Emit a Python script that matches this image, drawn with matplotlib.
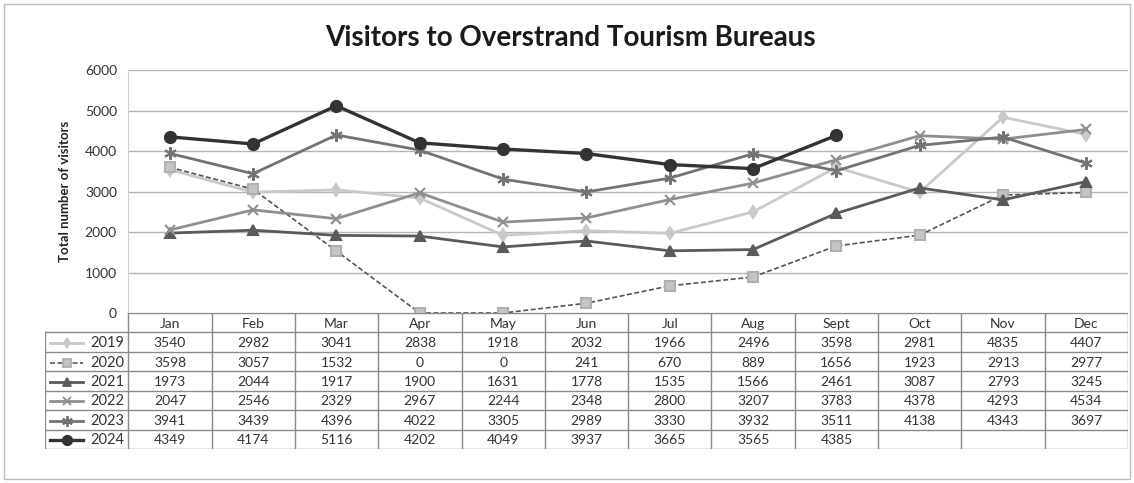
"""Visitors to Overstrand Tourism Bureaus - line chart with Excel-style data table."""
import matplotlib.pyplot as plt
import numpy as np
from matplotlib.patches import Rectangle

months = ["Jan", "Feb", "Mar", "Apr", "May", "Jun", "Jul", "Aug", "Sept", "Oct", "Nov", "Dec"]
years = ["2019", "2020", "2021", "2022", "2023", "2024"]

v2019 = [3540, 2982, 3041, 2838, 1918, 2032, 1966, 2496, 3598, 2981, 4835, 4407]
v2020 = [3598, 3057, 1532, 0, 0, 241, 670, 889, 1656, 1923, 2913, 2977]
v2021 = [1973, 2044, 1917, 1900, 1631, 1778, 1535, 1566, 2461, 3087, 2793, 3245]
v2022 = [2047, 2546, 2329, 2967, 2244, 2348, 2800, 3207, 3783, 4378, 4293, 4534]
v2023 = [3941, 3439, 4396, 4022, 3305, 2989, 3330, 3932, 3511, 4138, 4343, 3697]
v2024 = [4349, 4174, 5116, 4202, 4049, 3937, 3665, 3565, 4385, None, None, None]
series = [v2019, v2020, v2021, v2022, v2023, v2024]

yticks = [0, 1000, 2000, 3000, 4000, 5000, 6000]

styles = [
    dict(color="#c9c9c9", lw=2.0, ls="-", marker="d", ms=6, mfc="#c9c9c9", mec="#c9c9c9"),
    dict(color="#555555", lw=1.2, ls=(0, (3, 1.5)), marker="s", ms=7, mfc="#c4c4c4", mec="#b0b0b0"),
    dict(color="#5a5a5a", lw=2.0, ls="-", marker="^", ms=7, mfc="#5a5a5a", mec="#5a5a5a"),
    dict(color="#8f8f8f", lw=2.0, ls="-", marker="x", ms=7, mfc="#8f8f8f", mec="#8f8f8f"),
    dict(color="#737373", lw=2.0, ls="-", marker=(6, 2, 0), ms=9, mfc="#737373", mec="#737373"),
    dict(color="#333333", lw=2.4, ls="-", marker="o", ms=8, mfc="#333333", mec="#333333"),
]

W, H = 1134, 483
plt.rcParams["font.family"] = ["Lato", "DejaVu Sans"]
fig = plt.figure(figsize=(W / 100, H / 100), dpi=100)
fig.patches.append(Rectangle((4 / W, 4 / H), 1 - 8 / W, 1 - 8 / H, transform=fig.transFigure,
                             fill=False, ec="#bdbdbd", lw=1.0))


def px_axes(x0, x1, y0, y1):
    return fig.add_axes([x0 / W, 1 - y1 / H, (x1 - x0) / W, (y1 - y0) / H])


# main plot
ax = px_axes(128, 1128, 70, 313)
x = np.arange(len(months))
for vals, st in zip(series, styles):
    y = np.array([np.nan if v is None else v for v in vals], dtype=float)
    ax.plot(x, y, color=st["color"], lw=st["lw"], ls=st["ls"], marker=st["marker"],
            ms=st["ms"], mfc=st["mfc"], mec=st["mec"], mew=1.5, zorder=3)
ax.set_xlim(-0.5, 11.5)
ax.set_ylim(0, 6000)
ax.set_yticks(yticks)
ax.set_yticklabels([str(t) for t in yticks], fontsize=10, color="#333333")
ax.set_xticks([])
ax.tick_params(axis="y", length=0, pad=8)
ax.grid(axis="y", color="#b5b5b5", lw=1.0)
ax.set_axisbelow(True)
for side in ["top", "right", "bottom"]:
    ax.spines[side].set_visible(False)
ax.spines["left"].set_color("#d0d0d0")
ax.set_ylabel("Total number of visitors", fontsize=9.5, fontweight="bold", color="#222222", labelpad=10)
fig.text(570 / W, 1 - 38 / H, "Visitors to Overstrand Tourism Bureaus", ha="center", va="center",
         fontsize=20, fontweight="bold", color="#1a1a1a")

# data table
tab = px_axes(45, 1128, 313, 449)
tab.set_xlim(-1.5, 11.5)
tab.set_ylim(7, 0)
tab.axis("off")
lc = "#8a8a8a"
nrows = len(years) + 1
# horizontal lines
tab.plot([-0.5, 11.5], [0, 0], color=lc, lw=1)
for r in range(1, nrows + 1):
    tab.plot([-1.5, 11.5], [r, r], color=lc, lw=1)
# vertical lines
tab.plot([-1.5, -1.5], [1, nrows], color=lc, lw=1)
for c in range(len(months) + 1):
    tab.plot([c - 0.5, c - 0.5], [0, nrows], color=lc, lw=1)

for c, m in enumerate(months):
    tab.text(c, 0.55, m, ha="center", va="center", fontsize=10, color="#333333")
for r, (yr, vals, st) in enumerate(zip(years, series, styles), start=1):
    yc = r + 0.55
    tab.plot([-1.44, -1.04], [yc, yc], color=st["color"], lw=st["lw"], ls=st["ls"])
    tab.plot([-1.24], [yc], marker=st["marker"], ms=st["ms"] * 0.85, mfc=st["mfc"],
             mec=st["mec"], mew=1.3, color=st["color"])
    tab.text(-0.55, yc, yr, ha="right", va="center", fontsize=10.5, color="#333333")
    for c, v in enumerate(vals):
        if v is not None:
            tab.text(c, yc, str(v), ha="center", va="center", fontsize=10, color="#333333")

fig.savefig("out.png", dpi=100, facecolor="white")
